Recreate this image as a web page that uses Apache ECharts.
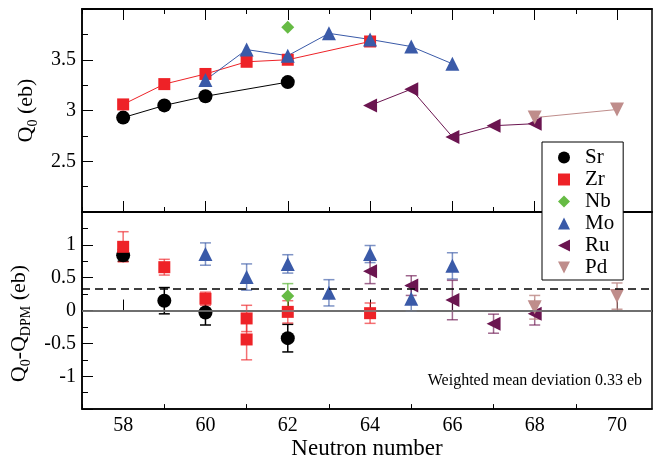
<!DOCTYPE html>
<html>
<head>
<meta charset="utf-8">
<script src="https://cdn.jsdelivr.net/npm/echarts@6.0.0/dist/echarts.min.js"></script>
<style>
  html, body { margin: 0; padding: 0; background: #fff; }
  #chart { width: 653px; height: 461px; }
</style>
</head>
<body>
<div id="chart"></div>
<script>
// tick positions on the neutron-number axis
const evenN = [58, 60, 62, 64, 66, 68, 70];
const oddN = [57, 59, 61, 63, 65, 67, 69];

// top panel: Q0 (eb)
const srN = [58, 59, 60, 62];
const srQ0 = [2.93, 3.05, 3.14, 3.28];
const zrN = [58, 59, 60, 61, 62, 64];
const zrQ0 = [3.06, 3.26, 3.36, 3.48, 3.50, 3.68];
const nbN = [62];
const nbQ0 = [3.82];
const moN = [60, 61, 62, 63, 64, 65, 66];
const moQ0 = [3.30, 3.60, 3.54, 3.76, 3.70, 3.63, 3.46];
const ruN = [64, 65, 66, 67, 68];
const ruQ0 = [3.05, 3.21, 2.74, 2.85, 2.87];
const pdN = [68, 70];
const pdQ0 = [2.93, 3.01];

// bottom panel: Q0 - QDPM (eb) with errors
const srDevN = [58, 59, 60, 62];
const srDev = [0.84, 0.15, -0.03, -0.42];
const srErr = [0.09, 0.2, 0.19, 0.21];
const zrDevN = [58, 59, 60, 61, 61, 62, 64];
const zrDev = [0.97, 0.66, 0.18, -0.12, -0.44, -0.02, -0.04];
const zrErr = [0.23, 0.12, 0.1, 0.2, 0.31, 0.17, 0.155];
const nbDevN = [62];
const nbDev = [0.22];
const nbErr = [0.19];
const moDevN = [60, 61, 62, 63, 64, 65, 66];
const moDev = [0.86, 0.51, 0.71, 0.27, 0.86, 0.18, 0.68];
const moErr = [0.17, 0.2, 0.14, 0.2, 0.13, 0.19, 0.2];
const ruDevN = [64, 65, 66, 67, 68];
const ruDev = [0.6, 0.38, 0.16, -0.2, -0.05];
const ruErr = [0.19, 0.15, 0.3, 0.145, 0.17];
const pdDevN = [68, 70];
const pdDev = [0.05, 0.22];
const pdErr = [0.18, 0.2];

const meanDev = 0.33;

const FONT = "'Liberation Serif', serif";
const leftTri = 'path://M0,5L10,0L10,10Z';
const downTri = 'path://M0,0L10,0L5,10Z';

const elements = [
  { name: 'Sr', color: '#000000', symbol: 'circle', size: 14, rot: 0, icon: 'circle', errOp: 1,
    n: srN, q: srQ0, dn: srDevN, d: srDev, e: srErr },
  { name: 'Zr', color: '#ee2227', symbol: 'rect', size: 12, rot: 0, icon: 'rect', errOp: 0.65,
    n: zrN, q: zrQ0, dn: zrDevN, d: zrDev, e: zrErr },
  { name: 'Nb', color: '#66bb44', symbol: 'diamond', size: 13, rot: 0, icon: 'diamond', errOp: 0.75,
    n: nbN, q: nbQ0, dn: nbDevN, d: nbDev, e: nbErr },
  { name: 'Mo', color: '#3a5aa8', symbol: 'triangle', size: 14, rot: 0, icon: 'triangle', errOp: 0.65,
    n: moN, q: moQ0, dn: moDevN, d: moDev, e: moErr },
  { name: 'Ru', color: '#6b1550', symbol: 'triangle', size: 14, rot: 90, icon: leftTri, errOp: 0.65,
    n: ruN, q: ruQ0, dn: ruDevN, d: ruDev, e: ruErr },
  { name: 'Pd', color: '#bf8d8b', symbol: 'triangle', size: 14, rot: 180, icon: downTri, errOp: 0.85,
    n: pdN, q: pdQ0, dn: pdDevN, d: pdDev, e: pdErr }
];

function zip(xs, ys) { return xs.map((x, i) => [x, ys[i]]); }

function errRenderer(color, opacity) {
  return function (params, api) {
    const x = api.value(0), y = api.value(1), e = api.value(2);
    const top = api.coord([x, y + e]);
    const bot = api.coord([x, y - e]);
    const w = 5.5;
    const style = { stroke: color, lineWidth: 1.5, opacity: opacity };
    return {
      type: 'group',
      children: [
        { type: 'line', shape: { x1: top[0], y1: top[1], x2: bot[0], y2: bot[1] }, style },
        { type: 'line', shape: { x1: top[0] - w, y1: top[1], x2: top[0] + w, y2: top[1] }, style },
        { type: 'line', shape: { x1: bot[0] - w, y1: bot[1], x2: bot[0] + w, y2: bot[1] }, style }
      ]
    };
  };
}

const xMin = 57, xMax = 70.85;

function xAxis(grid, pos, ticks, len, labels, name) {
  return {
    type: 'value', gridIndex: grid, position: pos, min: xMin, max: xMax,
    axisLine: { show: true, lineStyle: { color: '#000', width: 1.5 } },
    axisTick: { show: true, inside: true, length: len, customValues: ticks,
      lineStyle: { color: '#000', width: 1 } },
    axisLabel: { show: labels, customValues: ticks, margin: 7,
      fontFamily: FONT, fontSize: 20, color: '#000' },
    splitLine: { show: false },
    name: name || '', nameLocation: 'middle', nameGap: 24,
    nameTextStyle: { fontFamily: FONT, fontSize: 23, color: '#000' }
  };
}

function yAxis(grid, min, max, name, namePad) {
  return {
    type: 'value', gridIndex: grid, min: min, max: max, interval: 0.5,
    axisLine: { show: true, lineStyle: { color: '#000', width: 1.5 } },
    axisTick: { show: true, inside: true, length: 11, lineStyle: { color: '#000', width: 1 } },
    minorTick: { show: true, splitNumber: 2, length: 6, lineStyle: { color: '#000', width: 1 } },
    axisLabel: { showMinLabel: false, showMaxLabel: false, margin: 6,
      fontFamily: FONT, fontSize: 20, color: '#000' },
    splitLine: { show: false },
    minorSplitLine: { show: false },
    name: name, nameLocation: 'middle', nameRotate: 90, nameGap: 41,
    nameTextStyle: {
      fontFamily: FONT, color: '#000', padding: namePad,
      rich: {
        q: { fontFamily: FONT, fontSize: 22, color: '#000', lineHeight: 28 },
        s: { fontFamily: FONT, fontSize: 14, color: '#000', lineHeight: 28, verticalAlign: 'bottom' }
      }
    }
  };
}

const series = [];
elements.forEach(el => {
  series.push({
    name: el.name, type: 'line', xAxisIndex: 0, yAxisIndex: 0,
    data: zip(el.n, el.q),
    symbol: el.symbol, symbolSize: el.size, symbolRotate: el.rot,
    itemStyle: { color: el.color },
    lineStyle: { color: el.color, width: 1 },
    z: 3
  });
  series.push({
    name: el.name + ' err', type: 'custom', xAxisIndex: 4, yAxisIndex: 1,
    data: el.dn.map((x, i) => [x, el.d[i], el.e[i]]),
    encode: { x: 0, y: 1 },
    renderItem: errRenderer(el.color, el.errOp),
    z: 2
  });
  series.push({
    name: el.name, type: 'scatter', xAxisIndex: 4, yAxisIndex: 1,
    data: zip(el.dn, el.d),
    symbol: el.symbol, symbolSize: el.size, symbolRotate: el.rot,
    itemStyle: { color: el.color, opacity: 1 },
    z: 3
  });
});

// zero line and weighted mean deviation line
series.push({
  type: 'line', xAxisIndex: 4, yAxisIndex: 1, data: [],
  markLine: {
    silent: true, symbol: 'none', label: { show: false },
    data: [
      { yAxis: 0, lineStyle: { color: '#808080', width: 1.5, type: 'solid' } },
      { yAxis: meanDev, lineStyle: { color: '#000', width: 1.5, type: [8, 5] } }
    ]
  },
  z: 1
});

const chart = echarts.init(document.getElementById('chart'));
chart.setOption({
  animation: false,
  backgroundColor: '#fff',
  grid: [
    { left: 82, right: 1, top: 9, height: 203, show: true, borderColor: '#000', borderWidth: 1.5 },
    { left: 82, right: 1, top: 212, height: 203, show: true, borderColor: '#000', borderWidth: 1.5 }
  ],
  xAxis: [
    xAxis(0, 'bottom', evenN, 11, false),
    xAxis(0, 'bottom', oddN, 5, false),
    xAxis(0, 'top', evenN, 11, false),
    xAxis(0, 'top', oddN, 5, false),
    xAxis(1, 'bottom', evenN, 11, true, 'Neutron number'),
    xAxis(1, 'bottom', oddN, 5, false)
  ],
  yAxis: [
    yAxis(0, 2, 4, '{q|Q}{s|0}{q| (eb)}', [0, 0, 0, 0]),
    yAxis(1, -1.5, 1.5, '{q|Q}{s|0}{q|-Q}{s|DPM}{q| (eb)}', [0, 26, 0, 0])
  ],
  legend: {
    orient: 'vertical', left: 542, top: 142,
    backgroundColor: '#fff', borderColor: '#000', borderWidth: 1,
    padding: [5, 9, 2, 16], itemGap: 1, itemWidth: 12, itemHeight: 12,
    selectedMode: false, z: 10,
    textStyle: { fontFamily: FONT, fontSize: 21, color: '#000', lineHeight: 20, padding: [0, 0, 0, 10] },
    data: elements.map(el => ({ name: el.name, icon: el.icon }))
  },
  graphic: [{
    type: 'text', right: 11, top: 373, z: 10,
    style: { text: 'Weighted mean deviation 0.33 eb', font: '16px ' + FONT, fill: '#000' }
  }],
  series: series
});
</script>
</body>
</html>
